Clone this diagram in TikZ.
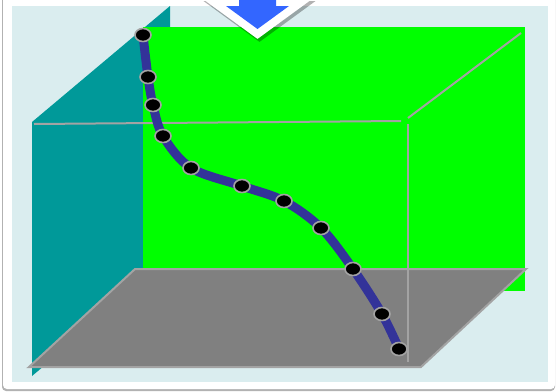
\documentclass[tikz,border=0pt]{standalone}
\usetikzlibrary{shapes.geometric}
\definecolor{bgblue}{HTML}{DAEDEF}
\definecolor{wallteal}{HTML}{009999}
\definecolor{wallgreen}{HTML}{00FF00}
\definecolor{floorgray}{HTML}{808080}
\definecolor{wiregray}{HTML}{A3A3A3}
\definecolor{curveblue}{HTML}{333399}
\definecolor{arrowblue}{HTML}{3366FF}
\begin{document}
\begin{tikzpicture}
[x=1pt,y=-1pt,every node/.style={ellipse,draw=wiregray,fill=black,line width=1.6pt,minimum width=16pt,minimum height=13pt,inner sep=0pt},
wire/.style={wiregray,line width=2pt}]
\useasboundingbox (0,0) rectangle (556,391);
\fill[black!30,rounded corners=4pt] (2,-6) rectangle (555,391);
\fill[white,rounded corners=4pt] (3,-6) rectangle (555,389);
\fill[bgblue] (12,6) rectangle (548,382);
\fill[wallteal] (32,122) -- (170,6) -- (170,260) -- (32,376) -- cycle;
\fill[wallgreen] (143,27) rectangle (525,291);
\filldraw[wire,fill=floorgray] (29,367) -- (135,269) -- (526,269) -- (421,367) -- cycle;
\draw[wire] (34,124) -- (401,121);
\draw[wire] (408,118) -- (521,33);
\draw[wire] (408,124) -- (408,362);
\coordinate (p1) at (143,35);
\coordinate (p2) at (148,77);
\coordinate (p3) at (153,105);
\coordinate (p4) at (163,136);
\coordinate (p5) at (191,168);
\coordinate (p6) at (242,186);
\coordinate (p7) at (284,201);
\coordinate (p8) at (321,228);
\coordinate (p9) at (353,269);
\coordinate (p10) at (382,314);
\coordinate (p11) at (399,349);
\draw[curveblue,line width=9pt] plot[smooth,tension=.55] coordinates {(p1) (p2) (p3) (p4) (p5) (p6) (p7) (p8) (p9) (p10) (p11)};
\node (1) at (p1) {};
\node (2) at (p2) {};
\node (3) at (p3) {};
\node (4) at (p4) {};
\node (5) at (p5) {};
\node (6) at (p6) {};
\node (7) at (p7) {};
\node (8) at (p8) {};
\node (9) at (p9) {};
\node (10) at (p10) {};
\node (11) at (p11) {};
\draw[black,opacity=.3,line width=16pt,line join=miter,shift={(2,3)}] (239,-20) -- (276,-20) -- (276,6) -- (289,6) -- (257.5,29) -- (226,6) -- (239,6) -- cycle;
\draw[white,line width=16pt,line join=miter] (239,-20) -- (276,-20) -- (276,6) -- (289,6) -- (257.5,29) -- (226,6) -- (239,6) -- cycle;
\fill[arrowblue] (239,-20) -- (276,-20) -- (276,6) -- (289,6) -- (257.5,29) -- (226,6) -- (239,6) -- cycle;
\end{tikzpicture}
\end{document}
